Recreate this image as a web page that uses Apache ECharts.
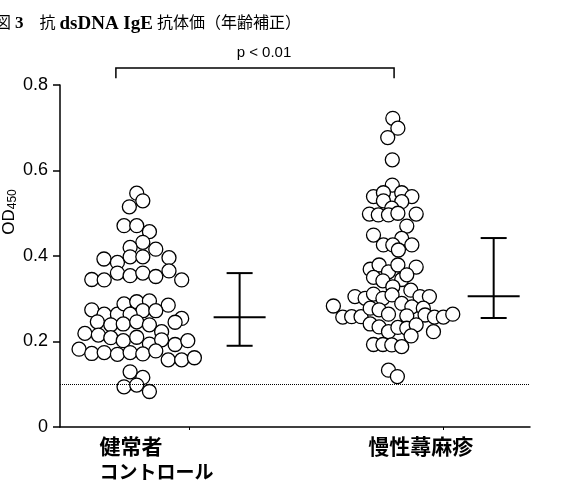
<!DOCTYPE html>
<html><head><meta charset="utf-8">
<script src="https://cdn.jsdelivr.net/npm/echarts@6/dist/echarts.min.js"></script>
<style>html,body{margin:0;padding:0;background:#fff}#c{width:578px;height:498px}</style>
</head><body><div id="c"></div><script>
// ---- data ----
const categories = ['{k|健常者}\n{c|コントロール}', '{k|慢性蕁麻疹}'];
const controlValues = [0.547,0.529,0.515,0.471,0.471,0.457,0.432,0.420,0.416,0.393,0.385,0.398,0.398,0.396,0.345,0.344,0.360,0.354,0.360,0.352,0.365,0.344,
  0.274,0.264,0.264,0.288,0.293,0.295,0.285,0.272,0.264,0.272,
  0.246,0.239,0.241,0.246,0.239,0.254,0.245,
  0.219,0.215,0.209,0.202,0.210,0.194,0.223,0.204,
  0.182,0.172,0.174,0.170,0.174,0.171,0.178,0.193,0.202,
  0.157,0.157,0.162,
  0.129,0.116,0.094,0.098,0.083];
const controlJitter = [-0.013,0.011,-0.042,-0.063,-0.013,0.037,0.011,-0.039,0.062,-0.142,-0.089,-0.039,0.011,0.114,-0.190,-0.141,-0.089,-0.039,0.011,0.062,0.114,0.164,
  -0.190,-0.141,-0.089,-0.063,-0.013,0.037,0.111,0.011,-0.039,0.062,
  -0.168,-0.115,-0.066,-0.013,0.037,0.164,0.138,
  -0.217,-0.164,-0.115,-0.066,-0.013,0.037,0.085,0.085,
  -0.240,-0.190,-0.141,-0.089,-0.039,0.011,0.062,0.138,0.188,
  0.111,0.164,0.214,
  -0.039,0.011,-0.063,-0.013,0.037];
const urticariaValues = [0.722,0.699,0.677,0.625,0.566,0.539,0.548,0.548,0.539,0.529,0.527,0.512,0.498,0.496,0.496,0.500,0.498,0.470,0.449,0.441,0.426,0.426,0.426,0.414,
  0.369,0.379,0.363,0.379,0.374,0.350,0.342,0.345,0.356,0.328,0.320,
  0.305,0.301,0.311,0.301,0.309,0.305,0.305,
  0.283,0.257,0.258,0.258,0.278,0.274,0.264,0.289,0.281,0.278,0.260,0.262,0.257,0.257,0.264,
  0.241,0.234,0.223,0.233,0.231,0.239,0.213,0.223,
  0.193,0.193,0.192,0.188,
  0.133,0.118];
const urticariaJitter = [-0.005,0.015,-0.025,-0.007,-0.007,-0.081,-0.042,0.030,0.070,-0.042,0.030,-0.009,-0.097,-0.062,-0.022,0.015,0.087,0.050,-0.081,0.030,-0.042,-0.005,0.070,0.017,
  -0.094,-0.059,-0.022,0.015,0.087,-0.081,-0.044,0.030,0.050,-0.005,0.066,
  -0.154,-0.114,-0.081,-0.044,-0.008,0.102,0.139,
  -0.239,-0.202,-0.167,-0.130,-0.094,-0.059,-0.022,0.030,0.070,0.115,0.050,0.122,0.159,0.194,0.231,
  -0.094,-0.059,-0.022,0.015,0.050,0.087,0.067,0.155,
  -0.081,-0.044,-0.009,0.030,
  -0.022,0.013];
const q1Values = [0.19, 0.255];
const medianValues = [0.257, 0.306];
const q3Values = [0.36, 0.442];
const cutoffValue = 0.1;
const pLabel = 'p < 0.01';
const bracketLevels = [0.84, 0.816];
const yTickValues = [0, 0.2, 0.4, 0.6, 0.8];

// ---- build ----
const DOT_OFF = -0.195, BAR_OFF = 0.197;
const groupPos = [1, 2];
const dotData = [
  ...controlValues.map((v, i) => [groupPos[0] + DOT_OFF + controlJitter[i], v]),
  ...urticariaValues.map((v, i) => [groupPos[1] + DOT_OFF + urticariaJitter[i], v])
];
const barData = groupPos.map((g, i) => [g + BAR_OFF, q1Values[i], medianValues[i], q3Values[i]]);
const bracketData = [[groupPos[0] + DOT_OFF - 0.095, groupPos[1] + DOT_OFF, bracketLevels[0], bracketLevels[1]]];

const cjk = '"Noto Sans CJK JP", sans-serif';
const chart = echarts.init(document.getElementById('c'), null, {renderer: 'canvas'});
chart.setOption({
  animation: false,
  backgroundColor: '#fff',
  grid: {left: 60, right: 48, top: 85, bottom: 71, containLabel: false},
  xAxis: {
    type: 'value', min: 0.49, max: 2.34,
    axisLine: {show: true, onZero: false, lineStyle: {color: '#000', width: 1.5}},
    axisTick: {show: true, customValues: groupPos, length: 3, lineStyle: {color: '#000', width: 1}},
    splitLine: {show: false},
    axisLabel: {
      show: true, customValues: [0.645, 1.703],
      formatter: v => (v < 1.3 ? categories[0] : categories[1]),
      align: 'left', verticalAlign: 'top', margin: 6, color: '#000',
      rich: {
        k: {fontFamily: cjk, fontWeight: 'bold', fontSize: 21, lineHeight: 26, color: '#000'},
        c: {fontFamily: cjk, fontWeight: 'bold', fontSize: 19, lineHeight: 26, color: '#000'}
      }
    }
  },
  yAxis: {
    type: 'value', min: 0, max: 0.8, interval: 0.2,
    axisLine: {show: true, lineStyle: {color: '#000', width: 1.5}},
    axisTick: {show: true, length: 7, lineStyle: {color: '#000', width: 1.5}},
    splitLine: {show: false},
    axisLabel: {
      margin: 12, color: '#000', fontSize: 18, fontFamily: '"Liberation Sans", Arial, sans-serif',
      formatter: v => { const t = yTickValues.find(x => Math.abs(x - v) < 1e-9); return t === 0 ? '0' : String(+v.toFixed(1)); }
    }
  },
  series: [
    {
      type: 'scatter', data: dotData, symbol: 'circle', symbolSize: 14, silent: true, z: 3,
      itemStyle: {color: '#fff', borderColor: '#000', borderWidth: 1.3, opacity: 1},
      markLine: {
        silent: true, symbol: ['none', 'none'], label: {show: false}, z: 5,
        lineStyle: {type: [1, 1], color: '#000', width: 1},
        data: [{yAxis: cutoffValue}]
      }
    },
    {
      type: 'custom', data: barData, silent: true, z: 4,
      encode: {x: 0, y: [1, 2, 3]},
      renderItem: (params, api) => {
        const x = api.value(0);
        const p1 = api.coord([x, api.value(1)]);
        const pm = api.coord([x, api.value(2)]);
        const p3 = api.coord([x, api.value(3)]);
        const st = {stroke: '#000', lineWidth: 2, fill: null};
        return {type: 'group', children: [
          {type: 'line', shape: {x1: p1[0], y1: p1[1], x2: p3[0], y2: p3[1]}, style: st},
          {type: 'line', shape: {x1: p1[0] - 13, y1: p1[1], x2: p1[0] + 13, y2: p1[1]}, style: st},
          {type: 'line', shape: {x1: p3[0] - 13, y1: p3[1], x2: p3[0] + 13, y2: p3[1]}, style: st},
          {type: 'line', shape: {x1: pm[0] - 26, y1: pm[1], x2: pm[0] + 26, y2: pm[1]}, style: st}
        ]};
      }
    },
    {
      type: 'custom', data: bracketData, silent: true, clip: false, z: 4,
      encode: {x: [0, 1], y: [2, 3]},
      renderItem: (params, api) => {
        const a = api.coord([api.value(0), api.value(2)]);
        const b = api.coord([api.value(1), api.value(2)]);
        const yb = api.coord([api.value(0), api.value(3)])[1];
        return {type: 'group', children: [
          {type: 'polyline', shape: {points: [[a[0], yb], [a[0], a[1]], [b[0], b[1]], [b[0], yb]]},
           style: {stroke: '#000', lineWidth: 1.5, fill: null}},
          {type: 'text', x: (a[0] + b[0]) / 2 + 9, y: a[1] - 15,
           style: {text: pLabel, fontSize: 15, fontFamily: '"Liberation Sans", Arial, sans-serif',
                   fill: '#000', align: 'center', verticalAlign: 'middle'}}
        ]};
      }
    }
  ],
  graphic: [
    {
      type: 'text', x: -5, y: 24, silent: true,
      style: {
        text: '{n|図 }{d|3}{n|　抗 }{b|dsDNA IgE}{n| 抗体価（年齢補正）}',
        verticalAlign: 'middle', align: 'left',
        rich: {
          n: {fontSize: 16, fontFamily: '"Liberation Serif", "Noto Sans CJK JP", serif', fill: '#000'},
          d: {fontSize: 17, fontWeight: 'bold', fontFamily: '"Liberation Serif", serif', fill: '#000'},
          b: {fontSize: 19, fontWeight: 'bold', fontFamily: '"Liberation Serif", serif', fill: '#000'}
        }
      }
    },
    {
      type: 'text', x: 9, y: 212, rotation: Math.PI / 2, silent: true,
      style: {
        text: '{a|OD}{s|450}', align: 'center', verticalAlign: 'middle',
        rich: {
          a: {fontSize: 17, lineHeight: 20, fontFamily: '"Liberation Sans", Arial, sans-serif', fill: '#000'},
          s: {fontSize: 12, lineHeight: 12, verticalAlign: 'bottom', fontFamily: '"Liberation Sans", Arial, sans-serif', fill: '#000'}
        }
      }
    }
  ]
});
</script></body></html>
